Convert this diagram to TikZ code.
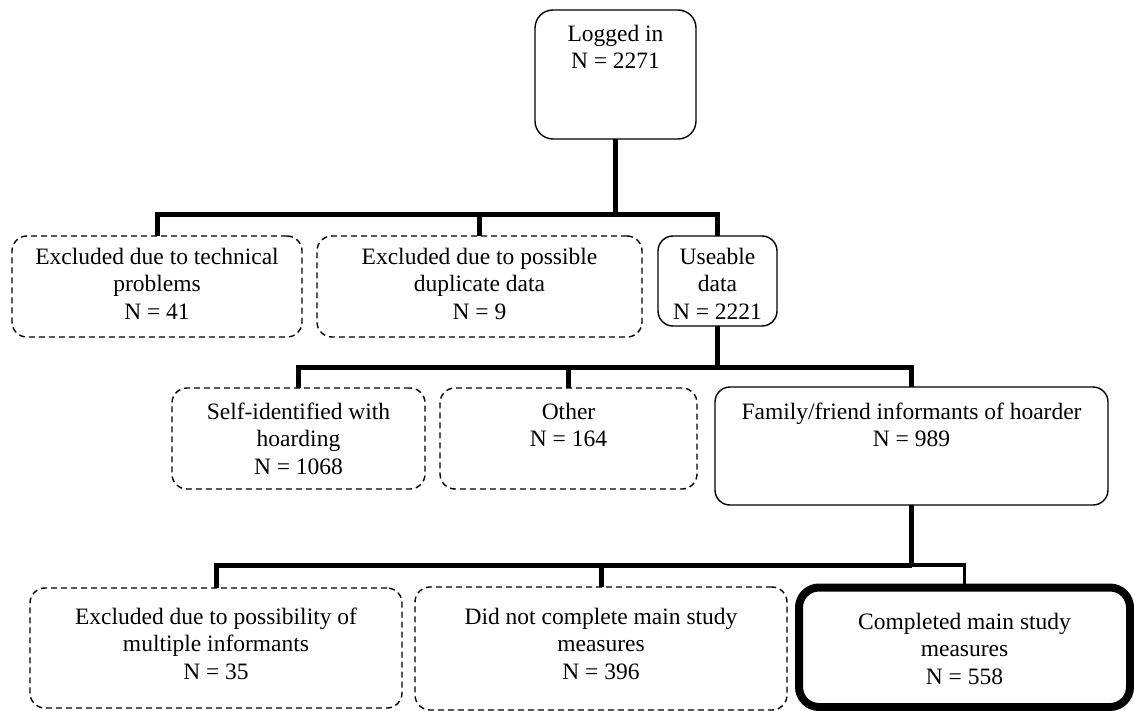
\documentclass[tikz,border=0pt]{standalone}
\usepackage{fontspec}
\setmainfont{Liberation Serif}
\begin{document}
\begin{tikzpicture}[x=1pt,y=-1pt,
  box/.style={draw, line width=1.4pt, rounded corners=15pt, inner sep=0pt, outer sep=0pt, anchor=north west},
  dbox/.style={box, dash pattern=on 6pt off 4pt, line width=1.4pt},
  boldbox/.style={box, line width=8pt, rounded corners=20pt},
  txt/.style={align=center, inner sep=0pt, anchor=north, font=\fontsize{23.5}{27.5}\selectfont},
  conn/.style={line width=5pt, line join=miter},
  thinconn/.style={line width=3.5pt, line join=miter}]
\useasboundingbox (0,0) rectangle (1134,711);

% boxes
\node[box, rounded corners=18pt, minimum width=161pt, minimum height=129pt] (top) at (535,10) {};
\node[dbox, minimum width=290pt, minimum height=101pt] (b1) at (12,236) {};
\node[dbox, minimum width=325pt, minimum height=101pt] (b2) at (317,236) {};
\node[box, minimum width=119pt, minimum height=90pt] (b3) at (658,236) {};
\node[dbox, minimum width=253pt, minimum height=101pt] (b4) at (172,388) {};
\node[dbox, minimum width=257pt, minimum height=101pt] (b5) at (440,388) {};
\node[box, minimum width=393pt, minimum height=118pt] (b6) at (715,387) {};
\node[dbox, minimum width=372pt, minimum height=120pt] (b7) at (30,588) {};
\node[dbox, minimum width=372pt, minimum height=123pt] (b8) at (415,587) {};
\node[boldbox, minimum width=331pt, minimum height=119.5pt] (b9) at (799,587.5) {};

% texts
\node[txt] (ttop) at ([yshift=-14.5pt]top.north) {Logged in\\N = 2271};
\node[txt] (t1) at ([yshift=-11.5pt]b1.north) {Excluded due to technical\\problems\\N = 41};
\node[txt] (t2) at ([yshift=-11.5pt]b2.north) {Excluded due to possible\\duplicate data\\N = 9};
\node[txt] (t3) at ([yshift=-11.5pt]b3.north) {Useable\\data\\N = 2221};
\node[txt] (t4) at ([yshift=-14.5pt]b4.north) {Self-identified with\\hoarding\\N = 1068};
\node[txt] (t5) at ([yshift=-14.5pt]b5.north) {Other\\N = 164};
\node[txt] (t6) at ([yshift=-15.5pt]b6.north) {Family/friend informants of hoarder\\N = 989};
\node[txt] (t7) at ([yshift=-19.5pt]b7.north) {Excluded due to possibility of\\multiple informants\\N = 35};
\node[txt] (t8) at ([yshift=-20.5pt]b8.north) {Did not complete main study\\measures\\N = 396};
\node[txt] (t9) at ([yshift=-25pt]b9.north) {Completed main study\\measures\\N = 558};

% connector levels
\coordinate (r1) at (0,215);
\coordinate (r2) at (0,367);
\coordinate (r3) at (0,565);

% row 1
\draw[conn] (top.south) -- (top.south |- r1);
\draw[conn] (b1.north) -- (b1.north |- r1) -- (b3.north |- r1) -- (b3.north);
\draw[conn] (b2.north) -- (b2.north |- r1);

% row 2
\draw[conn] (b3.south) -- (b3.south |- r2);
\draw[conn] (b4.north) -- (b4.north |- r2) -- (b6.north |- r2) -- (b6.north);
\draw[conn] (b5.north) -- (b5.north |- r2);

% row 3
\draw[conn] (b6.south) -- (b6.south |- r3);
\draw[conn] (b7.north) -- (b7.north |- r3) -- (b6.south |- r3);
\draw[conn] (b8.north) -- (b8.north |- r3);
\draw[thinconn] (b6.south |- r3) -- (b9.north |- r3) -- (b9.north);
\end{tikzpicture}
\end{document}
